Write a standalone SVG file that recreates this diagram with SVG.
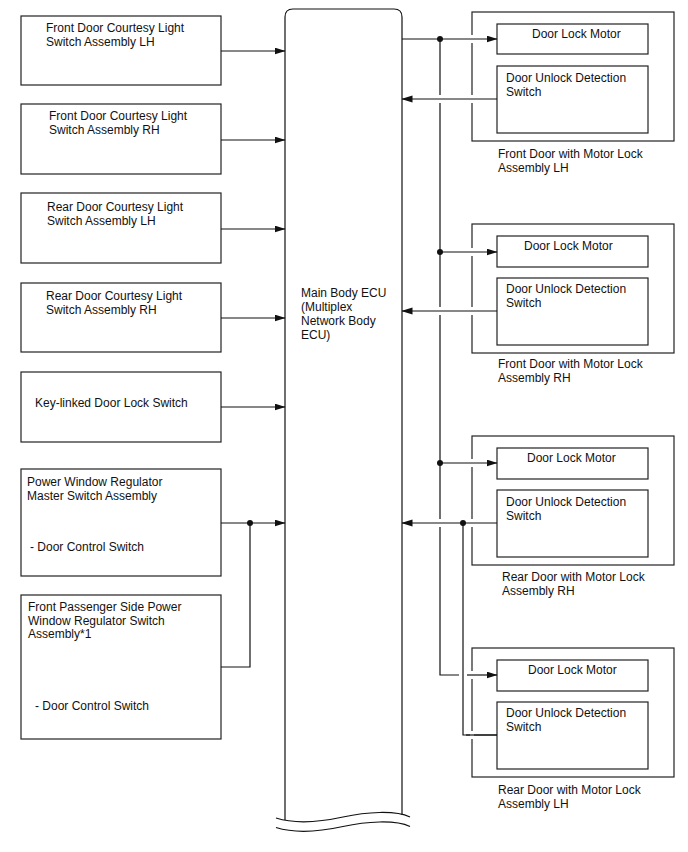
<svg xmlns="http://www.w3.org/2000/svg" width="688" height="852" viewBox="0 0 688 852">
<defs>
<style>
.box{fill:#fff;stroke:#222;stroke-width:1.2}
.ln{fill:none;stroke:#111;stroke-width:1.2}
.t{font-family:"Liberation Sans",Arial,sans-serif;font-size:12px;fill:#111}
.gap{fill:#fff}
.dot{fill:#111}
</style>
<marker id="ar" markerUnits="userSpaceOnUse" markerWidth="11" markerHeight="8" refX="10.5" refY="3.5" orient="auto">
<path d="M0,0 L11,3.5 L0,7 z" fill="#111"/>
</marker>
</defs>
<rect width="688" height="852" fill="#fff"/>

<g id="front-lh-courtesy">
<rect class="box" x="21" y="16" width="200" height="69"/>
<text class="t" x="46" y="32">Front Door Courtesy Light</text>
<text class="t" x="46" y="46">Switch Assembly LH</text>
</g>
<g id="front-rh-courtesy">
<rect class="box" x="21" y="104" width="200" height="70"/>
<text class="t" x="49" y="120">Front Door Courtesy Light</text>
<text class="t" x="49" y="134">Switch Assembly RH</text>
</g>
<g id="rear-lh-courtesy">
<rect class="box" x="21" y="193" width="200" height="70"/>
<text class="t" x="47" y="211">Rear Door Courtesy Light</text>
<text class="t" x="47" y="225">Switch Assembly LH</text>
</g>
<g id="rear-rh-courtesy">
<rect class="box" x="21" y="283" width="200" height="69"/>
<text class="t" x="46" y="300">Rear Door Courtesy Light</text>
<text class="t" x="46" y="314">Switch Assembly RH</text>
</g>
<g id="key-linked">
<rect class="box" x="21" y="372" width="200" height="70"/>
<text class="t" x="35" y="407">Key-linked Door Lock Switch</text>
</g>
<g id="pw-master">
<rect class="box" x="21" y="469" width="200" height="107"/>
<text class="t" x="27" y="486">Power Window Regulator</text>
<text class="t" x="27" y="500">Master Switch Assembly</text>
<text class="t" x="30" y="551">- Door Control Switch</text>
</g>
<g id="pw-passenger">
<rect class="box" x="21" y="595" width="200" height="144"/>
<text class="t" x="28" y="611">Front Passenger Side Power</text>
<text class="t" x="28" y="625">Window Regulator Switch</text>
<text class="t" x="28" y="638">Assembly*1</text>
<text class="t" x="35" y="710">- Door Control Switch</text>
</g>

<g id="main-ecu">
<path class="ln" d="M285,820 V17 Q285,9 293,9 H394 Q402,9 402,17 V815"/>
<path class="ln" d="M276,818 C295,824 320,822 343,817 S395,810 410,817"/>
<path class="ln" d="M276,827.5 C295,833.5 320,831.5 343,826.5 S395,819.5 410,826.5"/>
<text class="t" x="301" y="297">Main Body ECU</text>
<text class="t" x="301" y="311">(Multiplex</text>
<text class="t" x="301" y="325">Network Body</text>
<text class="t" x="301" y="339">ECU)</text>
</g>

<g id="front-door-lh">
<rect class="box" x="472" y="12" width="202" height="129"/>
<rect class="box" x="497" y="24" width="151" height="30"/>
<text class="t" x="532" y="38">Door Lock Motor</text>
<rect class="box" x="497" y="66" width="151" height="67"/>
<text class="t" x="506" y="82">Door Unlock Detection</text>
<text class="t" x="506" y="96">Switch</text>
<text class="t" x="498" y="158">Front Door with Motor Lock</text>
<text class="t" x="498" y="172">Assembly LH</text>
</g>
<g id="front-door-rh">
<rect class="box" x="472" y="224" width="202" height="129"/>
<rect class="box" x="497" y="236" width="151" height="31"/>
<text class="t" x="524" y="250">Door Lock Motor</text>
<rect class="box" x="497" y="278" width="151" height="67"/>
<text class="t" x="506" y="293">Door Unlock Detection</text>
<text class="t" x="506" y="307">Switch</text>
<text class="t" x="498" y="368">Front Door with Motor Lock</text>
<text class="t" x="498" y="382">Assembly RH</text>
</g>
<g id="rear-door-rh">
<rect class="box" x="472" y="436" width="202" height="129"/>
<rect class="box" x="497" y="448" width="151" height="31"/>
<text class="t" x="527" y="462">Door Lock Motor</text>
<rect class="box" x="497" y="490" width="151" height="67"/>
<text class="t" x="506" y="506">Door Unlock Detection</text>
<text class="t" x="506" y="520">Switch</text>
<text class="t" x="502" y="581">Rear Door with Motor Lock</text>
<text class="t" x="502" y="595">Assembly RH</text>
</g>
<g id="rear-door-lh">
<rect class="box" x="472" y="648" width="202" height="129"/>
<rect class="box" x="497" y="660" width="151" height="31"/>
<text class="t" x="528" y="674">Door Lock Motor</text>
<rect class="box" x="497" y="702" width="151" height="67"/>
<text class="t" x="506" y="717">Door Unlock Detection</text>
<text class="t" x="506" y="731">Switch</text>
<text class="t" x="498" y="794">Rear Door with Motor Lock</text>
<text class="t" x="498" y="808">Assembly LH</text>
</g>

<g id="connectors">
<path class="ln" d="M221,51 H285" marker-end="url(#ar)"/>
<path class="ln" d="M221,140 H285" marker-end="url(#ar)"/>
<path class="ln" d="M221,229 H285" marker-end="url(#ar)"/>
<path class="ln" d="M221,318 H285" marker-end="url(#ar)"/>
<path class="ln" d="M221,407 H285" marker-end="url(#ar)"/>
<path class="ln" d="M221,523 H285" marker-end="url(#ar)"/>
<path class="ln" d="M221,667 H250 V523"/>
<circle class="dot" cx="250" cy="523" r="3"/>

<path class="ln" d="M440,39 V675 H459"/>
<path class="ln" d="M463,523 V735 H497"/>

<rect class="gap" x="470" y="35" width="4" height="8"/>
<rect class="gap" x="438" y="95" width="4" height="8"/>
<rect class="gap" x="470" y="95" width="4" height="8"/>
<rect class="gap" x="470" y="248" width="4" height="8"/>
<rect class="gap" x="438" y="307" width="4" height="8"/>
<rect class="gap" x="470" y="307" width="4" height="8"/>
<rect class="gap" x="470" y="459" width="4" height="8"/>
<rect class="gap" x="438" y="519" width="4" height="8"/>
<rect class="gap" x="470" y="519" width="4" height="8"/>
<rect class="gap" x="470" y="671" width="4" height="8"/>
<rect class="gap" x="470" y="731" width="4" height="8"/>

<path class="ln" d="M402,39 H497" marker-end="url(#ar)"/>
<path class="ln" d="M497,99 H402" marker-end="url(#ar)"/>
<path class="ln" d="M440,252 H497" marker-end="url(#ar)"/>
<path class="ln" d="M497,311 H402" marker-end="url(#ar)"/>
<path class="ln" d="M440,463 H497" marker-end="url(#ar)"/>
<path class="ln" d="M497,523 H402" marker-end="url(#ar)"/>
<path class="ln" d="M467,675 H497" marker-end="url(#ar)"/>
<path class="ln" d="M466,735 H497"/>
<circle class="dot" cx="440" cy="39" r="3"/>
<circle class="dot" cx="440" cy="252" r="3"/>
<circle class="dot" cx="440" cy="463" r="3"/>
<circle class="dot" cx="463" cy="523" r="3"/>
</g>
</svg>
